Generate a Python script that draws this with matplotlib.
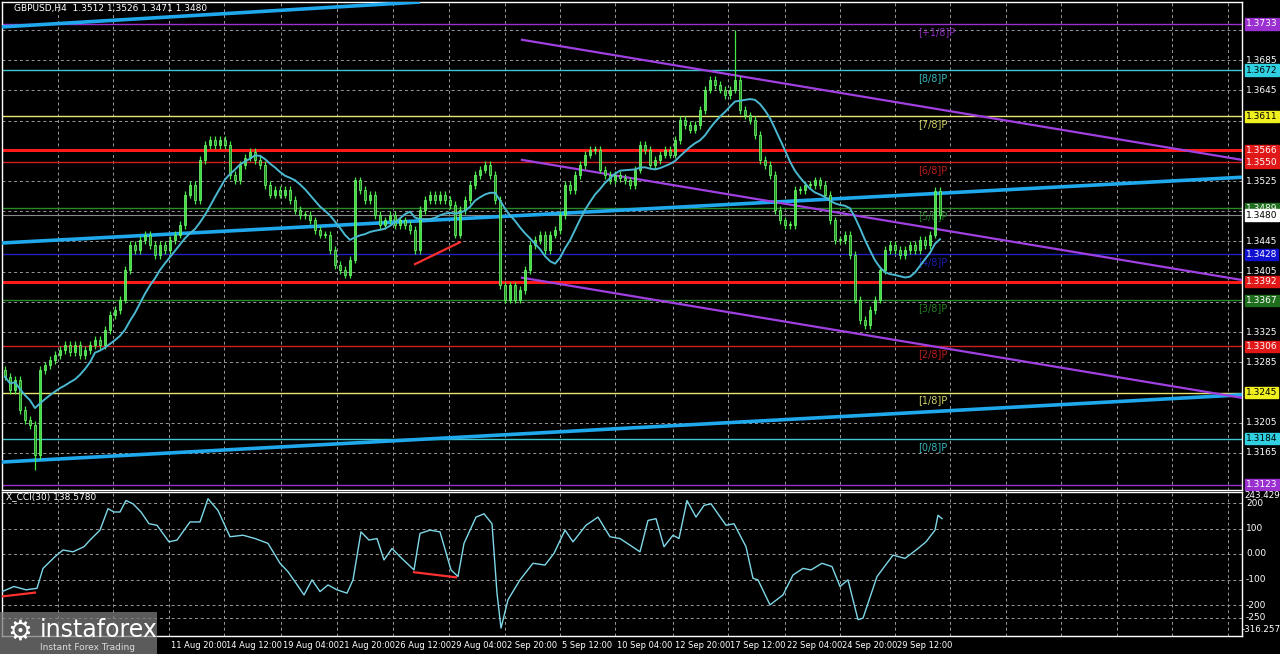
import matplotlib
matplotlib.use("Agg")
import matplotlib.pyplot as plt
import numpy as np
import pandas as pd
from matplotlib.patches import Rectangle

# ---------------- data ----------------
closes = [1.3266,1.3248,1.3262,1.3222,1.3209,1.3202,1.3162,1.3275,1.3281,1.3288,1.3295,1.3301,1.3308,1.3299,1.3308,
          1.3295,1.3301,1.3308,1.3315,1.3308,1.3328,1.3348,1.3354,1.3368,1.3407,1.3440,1.3434,1.3447,1.3454,1.3440,
          1.3427,1.3440,1.3434,1.3447,1.3454,1.3467,1.3507,1.3520,1.3500,1.3553,1.3573,1.3579,1.3573,1.3579,1.3573,
          1.3533,1.3526,1.3546,1.3556,1.3564,1.3553,1.3546,1.3520,1.3507,1.3513,1.3507,1.3513,1.3500,1.3487,1.3480,
          1.3480,1.3473,1.3460,1.3454,1.3454,1.3434,1.3414,1.3407,1.3401,1.3421,1.3526,1.3513,1.3500,1.3507,1.3480,
          1.3467,1.3473,1.3480,1.3467,1.3473,1.3467,1.3460,1.3434,1.3487,1.3500,1.3507,1.3500,1.3507,1.3500,1.3493,
          1.3454,1.3487,1.3500,1.3520,1.3533,1.3540,1.3546,1.3533,1.3500,1.3387,1.3368,1.3387,1.3368,1.3381,1.3407,
          1.3440,1.3447,1.3454,1.3434,1.3454,1.3460,1.3480,1.3520,1.3513,1.3533,1.3546,1.3560,1.3566,1.3566,1.3540,
          1.3533,1.3526,1.3533,1.3529,1.3526,1.3520,1.3540,1.3573,1.3566,1.3546,1.3553,1.3560,1.3566,1.3560,1.3579,
          1.3606,1.3599,1.3593,1.3599,1.3619,1.3646,1.3659,1.3652,1.3646,1.3639,1.3646,1.3659,1.3619,1.3612,1.3606,
          1.3586,1.3553,1.3546,1.3533,1.3487,1.3473,1.3467,1.3467,1.3513,1.3513,1.3520,1.3520,1.3526,1.3520,1.3507,
          1.3473,1.3447,1.3447,1.3454,1.3427,1.3368,1.3341,1.3334,1.3354,1.3368,1.3407,1.3434,1.3440,1.3434,1.3427,
          1.3434,1.3440,1.3434,1.3447,1.3440,1.3454,1.3512,1.3480]
first_open = 1.3275
spike_idx = [6, 146]
spike_val = [1.3143, 1.3725]

cci_t = [2,14,26,37,43,55,63,73,84,90,100,108,114,120,126,133,141,149,157,169,177,190,200,208,218,230,243,255,
         268,280,288,296,304,312,320,328,337,347,353,361,369,377,384,392,400,414,420,430,440,451,458,464,476,
         484,492,497,501,508,520,533,545,554,565,573,586,598,610,620,640,648,656,664,673,679,687,696,704,711,
         726,734,746,753,758,770,783,793,803,811,822,832,840,848,858,863,877,893,905,918,926,935,938,942]
cci_v = [-147,-127,-140,-134,-56,-10,16,9,29,55,94,178,165,165,210,197,165,119,113,48,55,126,126,217,171,68,74,
         61,42,-36,-69,-114,-160,-101,-147,-121,-140,-153,-101,87,55,61,-23,22,-10,-62,81,94,87,-62,-88,42,145,
         158,119,-153,-290,-179,-101,-36,-43,3,94,48,113,145,68,61,9,132,139,29,74,61,210,145,191,197,113,
         119,29,-95,-101,-199,-160,-82,-56,-62,-36,-49,-127,-101,-257,-251,-88,-4,-17,22,48,94,152,139]

levels = [1.3733,1.3672,1.3611,1.3550,1.3489,1.3428,1.3367,1.3306,1.3245,1.3184,1.3123]
level_names = ["[+1/8]P","[8/8]P","[7/8]P","[6/8]P","[5/8]P","[4/8]P","[3/8]P","[2/8]P","[1/8]P","[0/8]P","[-1/8]P"]
level_colors = ["#9b30d0","#40c8d0","#e8e870","#d02020","#2a8a2a","#2020c0","#2a8a2a","#d02020","#e8e870","#40c8d0","#9b30d0"]
level_box = ["#9b30d0","#30d0e0","#f0f020","#e01818","#1e6e1e","#1010d0","#1e6e1e","#e01818","#f0f020","#30d0e0","#9b30d0"]
red_lines = [1.3566, 1.3392]
current = 1.3480
price_ticks = [1.3725,1.3685,1.3645,1.3605,1.3565,1.3525,1.3485,1.3445,1.3405,1.3365,1.3325,1.3285,1.3245,1.3205,1.3165]
blue_trend = [((2,1.3729),(420,1.3762)), ((2,1.3443),(1242,1.3530)), ((2,1.3153),(1242,1.3242))]
purple_trend = [((522,1.3712),(1242,1.3553)), ((522,1.3553),(1242,1.3394)), ((522,1.3397),(1242,1.3238))]
red_price_seg = ((415,1.3415),(460,1.3444))
red_cci_segs = [((2,-166),(35,-151)), ((414,-71),(456,-91))]
time_grid = [2,58,113,169,224,281,337,393,449,505,560,615,673,728,785,840,895,950,1006,1061,1117,1172,1228]
time_labels = {169:"11 Aug 20:00",224:"14 Aug 12:00",281:"19 Aug 04:00",337:"21 Aug 20:00",393:"26 Aug 12:00",
               449:"29 Aug 04:00",505:"2 Sep 20:00",560:"5 Sep 12:00",615:"10 Sep 04:00",673:"12 Sep 20:00",
               728:"17 Sep 12:00",785:"22 Sep 04:00",840:"24 Sep 20:00",895:"29 Sep 12:00"}
cci_ticks = [200,100,0,-100,-200,-250]

# ---------------- figure ----------------
W, H = 1280, 654
fig = plt.figure(figsize=(W/100, H/100), dpi=100, facecolor="black")
def ax_at(x0, y0, x1, y1):
    return fig.add_axes([x0/W, 1-y1/H, (x1-x0)/W, (y1-y0)/H])
ax = ax_at(2, 2, 1242, 490)
ax2 = ax_at(2, 492, 1242, 636)
YT, YB = 1.3762, 1.3116
for a in (ax, ax2):
    a.set_facecolor("black")
    a.set_xlim(2, 1242)
    a.set_xticks([]); a.set_yticks([])
    for s in a.spines.values():
        s.set_color("white"); s.set_linewidth(1)
ax.set_ylim(YB, YT)
ax2.set_ylim(-321, 243.4)

gridkw = dict(color="#9a9a9a", lw=0.7, ls=(0, (3, 3)), zorder=1)
for g in time_grid:
    ax.axvline(g, **gridkw); ax2.axvline(g, **gridkw)
for p in price_ticks:
    ax.axhline(p, **gridkw)
for c in cci_ticks:
    ax2.axhline(c, **gridkw)

for lv, nm, col in zip(levels, level_names, level_colors):
    ax.axhline(lv, color=col, lw=1.0, zorder=2)
    if lv > 1.3125:
        ax.text(918, lv - 0.0004, nm, color=col, fontsize=7, va="top", ha="left", zorder=3, alpha=0.9)
for r in red_lines:
    ax.axhline(r, color="#ff1a1a", lw=2.2, zorder=2)
ax.axhline(current, color="#888888", lw=0.8, zorder=2)

for (a0, a1) in blue_trend:
    ax.plot([a0[0], a1[0]], [a0[1], a1[1]], color="#1fa8ec", lw=2.6, zorder=4, solid_capstyle="butt")
for (a0, a1) in purple_trend:
    ax.plot([a0[0], a1[0]], [a0[1], a1[1]], color="#a040e0", lw=1.6, zorder=4)
ax.plot([red_price_seg[0][0], red_price_seg[1][0]], [red_price_seg[0][1], red_price_seg[1][1]], color="#ff3030", lw=1.6, zorder=6)

# candles
cl = np.array(closes)
xs = 5 + 5*np.arange(len(cl))
op = np.concatenate([[first_open], cl[:-1]])
hi = np.maximum(op, cl) + 0.0005
lo = np.minimum(op, cl) - 0.0005
for i, v in zip(spike_idx, spike_val):
    hi[i] = max(hi[i], v); lo[i] = min(lo[i], v)
ax.vlines(xs, lo, hi, color="#45e845", lw=0.9, zorder=5)
for x, o, c in zip(xs, op, cl):
    b = min(o, c); h = max(abs(c-o), 0.00008)
    ax.add_patch(Rectangle((x-1.4, b), 2.8, h, facecolor="#1f9a1f" if c < o else "#3cdc3c",
                           edgecolor="#7cff7c", lw=0.5, zorder=5))
ma = pd.Series(cl).rolling(12, min_periods=1).mean()
ax.plot(xs, ma, color="#4ab8d0", lw=1.4, zorder=6)

# right price axis labels
box_prices = levels + red_lines + [current]
for p in price_ticks:
    if min(abs(p - b) for b in box_prices) * 7553 < 9:
        continue
    fig.text(1246/W, 1-(30+(1.3725-p)*7553)/H, f"{p:.4f}", color="white", fontsize=6.5, va="center", ha="left")
def box(price, txt, fc, tc="white"):
    y = 30 + (1.3725-price)*7553
    fig.text(1246/W, 1-y/H, txt, color=tc, fontsize=6.5, va="center", ha="left",
             bbox=dict(boxstyle="square,pad=0.12", fc=fc, ec=fc))
for lv, col in zip(levels, level_box):
    tc = "black" if col in ("#f0f020", "#30d0e0") else "white"
    box(lv, f"{lv:.4f}", col, tc)
for r in red_lines:
    box(r, f"{r:.4f}", "#e01818")
box(current, f"{current:.4f}", "white", "black")

# CCI
ax2.plot(cci_t, cci_v, color="#7fd8e8", lw=1.0, zorder=5)
for (a0, a1) in red_cci_segs:
    ax2.plot([a0[0], a1[0]], [a0[1], a1[1]], color="#ff3030", lw=1.6, zorder=6)
for c in cci_ticks:
    fig.text(1246/W, 1-(554-c*0.255)/H, f"{c:.2f}" if c == 0 else f"{c}", color="white", fontsize=6.5, va="center")
fig.text(1244/W, 1-496/H, "243.429", color="white", fontsize=6.3, va="center")
fig.text(1242/W, 1-630/H, "-316.257", color="white", fontsize=6.3, va="center")
fig.text(6/W, 1-497/H, "X_CCI(30) 138.5780", color="white", fontsize=6.5, va="center")

fig.text(14/W, 1-8/H, "GBPUSD,H4  1.3512 1.3526 1.3471 1.3480", color="white", fontsize=6.5, va="center")

for g, t in time_labels.items():
    fig.text((g+2)/W, 1-645/H, t, color="white", fontsize=6, va="center", ha="left")

# logo
fig.patches.append(Rectangle((0, 0), 157/W, 42/H, transform=fig.transFigure, fc="#7a7a7a", ec="none", alpha=0.75, zorder=10))
fig.text(40/W, 1-630/H, "instaforex", color="white", fontsize=17, va="center", ha="left", zorder=11)
fig.text(40/W, 1-648/H, "Instant Forex Trading", color="#dddddd", fontsize=6.5, va="center", ha="left", zorder=11)
fig.text(20/W, 1-632/H, "⚙", color="white", fontsize=20, va="center", ha="center", zorder=11)

fig.savefig("out.png", dpi=100, facecolor="black")
